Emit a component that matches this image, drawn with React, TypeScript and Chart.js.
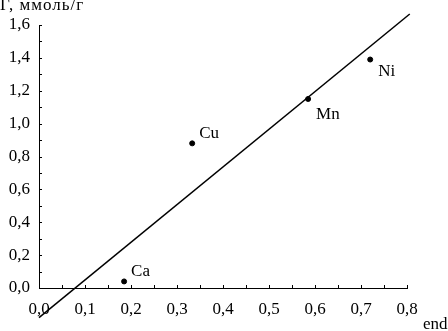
import React, { useEffect, useRef } from "react";
import { Chart, registerables } from "chart.js";

Chart.register(...registerables);

// ---- data ----
const pointLabels = ["Ca", "Cu", "Mn", "Ni"];
const pointX = [0.185, 0.333, 0.585, 0.72];
const pointY = [0.04, 0.88, 1.15, 1.39];
const fitX = [0.0, 0.806];
const fitY = [-0.18, 1.667];
const xMin = 0;
const xMax = 0.8;
const yMin = 0;
const yMax = 1.6;
const yAxisTitle = "Г, ммоль/г";
const xAxisTitle = "end";

const FONT = "'Liberation Serif', 'Times New Roman', serif";

const fmt = (v: number) => v.toFixed(1).replace(".", ",");
const isMult = (v: number, step: number) =>
  Math.abs(v / step - Math.round(v / step)) < 1e-6;

// label offsets (style, relative to each point)
const labelOffsets: [number, number][] = [
  [7, -10],
  [7, -10],
  [8, 16],
  [8, 12],
];

const decorPlugin = {
  id: "decor",
  afterDraw(chart: any) {
    const ctx = chart.ctx as CanvasRenderingContext2D;
    const xs = chart.scales.x;
    const ys = chart.scales.y;
    const ca = chart.chartArea;
    ctx.save();
    // inward ticks
    ctx.strokeStyle = "#000";
    ctx.lineWidth = 1;
    ctx.beginPath();
    xs.ticks.forEach((t: any) => {
      const px = Math.round(xs.getPixelForValue(t.value)) + 0.5;
      ctx.moveTo(px, ca.bottom);
      ctx.lineTo(px, ca.bottom - 3);
    });
    ys.ticks.forEach((t: any) => {
      const py = Math.round(ys.getPixelForValue(t.value)) + 0.5;
      ctx.moveTo(ca.left, py);
      ctx.lineTo(ca.left + 3, py);
    });
    ctx.stroke();

    // point labels
    ctx.fillStyle = "#000";
    ctx.font = `17px ${FONT}`;
    ctx.textAlign = "left";
    ctx.textBaseline = "middle";
    const meta = chart.getDatasetMeta(0);
    meta.data.forEach((el: any, i: number) => {
      const [dx, dy] = labelOffsets[i];
      ctx.fillText(pointLabels[i], el.x + dx, el.y + dy);
    });

    // axis titles
    ctx.textBaseline = "alphabetic";
    (ctx as any).letterSpacing = "1px";
    ctx.fillText(yAxisTitle, 0, 10);
    (ctx as any).letterSpacing = "0px";
    ctx.fillText(xAxisTitle, 423, 329);
    ctx.restore();
  },
};

export default function App() {
  const ref = useRef<HTMLCanvasElement | null>(null);

  useEffect(() => {
    if (!ref.current) return;
    const chart = new Chart(ref.current, {
      type: "scatter",
      data: {
        datasets: [
          {
            data: pointX.map((x, i) => ({ x, y: pointY[i] })),
            backgroundColor: "#000",
            borderColor: "#000",
            pointRadius: 2.5,
            showLine: false,
          },
          {
            data: fitX.map((x, i) => ({ x, y: fitY[i] })),
            showLine: true,
            borderColor: "#000",
            borderWidth: 1.5,
            pointRadius: 0,
            clip: false,
          } as any,
        ],
      },
      options: {
        responsive: false,
        animation: false,
        events: [],
        layout: { padding: { top: 25, right: 41, left: 0, bottom: 0 } },
        plugins: {
          legend: { display: false },
          tooltip: { enabled: false },
        },
        scales: {
          x: {
            type: "linear",
            min: xMin,
            max: xMax,
            afterFit: (s: any) => {
              s.height = 43;
            },
            grid: { drawOnChartArea: false, drawTicks: false },
            border: { display: true, color: "#000", width: 1 },
            ticks: {
              stepSize: 0.05,
              autoSkip: false,
              maxRotation: 0,
              padding: 11,
              color: "#000",
              font: { family: FONT, size: 17 },
              callback: (v: any) => (isMult(Number(v), 0.1) ? fmt(Number(v)) : ""),
            },
          },
          y: {
            type: "linear",
            min: yMin,
            max: yMax,
            afterFit: (s: any) => {
              s.width = 39;
            },
            grid: { drawOnChartArea: false, drawTicks: false },
            border: { display: true, color: "#000", width: 1 },
            ticks: {
              stepSize: 0.1,
              autoSkip: false,
              padding: 9,
              color: "#000",
              font: { family: FONT, size: 17 },
              callback: (v: any) => (isMult(Number(v), 0.2) ? fmt(Number(v)) : ""),
            },
          },
        },
      },
      plugins: [decorPlugin],
    });
    return () => chart.destroy();
  }, []);

  return (
    <div style={{ position: "absolute", left: 0, top: 0, width: 448, height: 331, background: "#fff" }}>
      <canvas ref={ref} width={448} height={331} style={{ display: "block" }} />
    </div>
  );
}
